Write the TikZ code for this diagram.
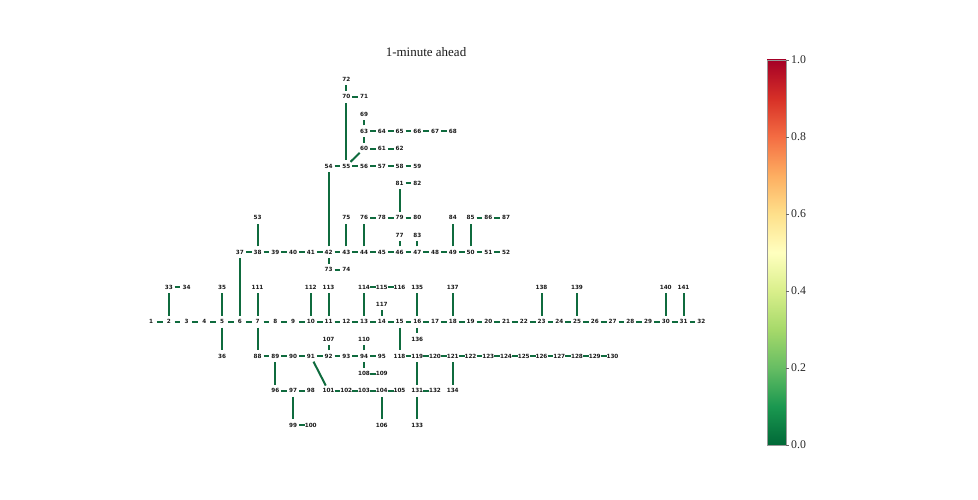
\documentclass[tikz,border=0pt]{standalone}
\usepackage{fontspec}
\setmainfont{Liberation Serif}
\newfontfamily\busfont{DejaVu Sans Bold}
\definecolor{cA}{HTML}{006837}\definecolor{cB}{HTML}{1A9850}\definecolor{cC}{HTML}{66BD63}
\definecolor{cD}{HTML}{A6D96A}\definecolor{cE}{HTML}{D9EF8B}\definecolor{cF}{HTML}{FFFFBF}
\definecolor{cG}{HTML}{FEE08B}\definecolor{cH}{HTML}{FDAE61}\definecolor{cI}{HTML}{F46D43}
\definecolor{cJ}{HTML}{D73027}\definecolor{cK}{HTML}{A50026}
\definecolor{edgegreen}{HTML}{0F6B3E}
\pgfdeclareverticalshading{rdylgn}{100bp}{
 color(0bp)=(cA);color(25bp)=(cA);color(30bp)=(cB);color(35bp)=(cC);color(40bp)=(cD);color(45bp)=(cE);
 color(50bp)=(cF);color(55bp)=(cG);color(60bp)=(cH);color(65bp)=(cI);color(70bp)=(cJ);color(75bp)=(cK);color(100bp)=(cK)}
\tikzset{
 bus/.style={circle,inner sep=0pt,minimum size=11.6pt,font=\busfont\fontsize{5.7}{6}\selectfont,text=black!90},
 edge/.style={draw=edgegreen,line width=2pt},
 ticklabel/.style={anchor=west,inner sep=0pt,font=\fontsize{11.8}{13}\selectfont,text=black!85},
 titlelabel/.style={inner sep=0pt,font=\fontsize{13}{15}\selectfont,text=black!90},
}
\newcommand{\buslabel}[1]{\makebox[0pt][c]{\raisebox{-0.365em}[0pt][0pt]{#1}}}
\begin{document}
\begin{tikzpicture}[x=17.75pt,y=17.3pt]
\useasboundingbox (-151pt,-178.3pt) rectangle (827pt,321.7pt);
% buses on the main row
\foreach \n [evaluate=\n as \c using int(\n-1)] in {1,...,32}
  \node[bus] (n\n) at (\c,0) {\buslabel{\n}};
% row 4
\foreach \n [evaluate=\n as \c using int(\n-32)] in {37,...,52}
  \node[bus] (n\n) at (\c,4) {\buslabel{\n}};
% row -2 feeders
\foreach \n [evaluate=\n as \c using int(\n-82)] in {88,...,95}
  \node[bus] (n\n) at (\c,-2) {\buslabel{\n}};
\foreach \n [evaluate=\n as \c using int(\n-104)] in {118,...,130}
  \node[bus] (n\n) at (\c,-2) {\buslabel{\n}};
% remaining buses
\foreach \n/\c/\r in {33/1/2,34/2/2,35/4/2,36/4/-2,53/6/6,
  54/10/9,55/11/9,56/12/9,57/13/9,58/14/9,59/15/9,
  60/12/10,61/13/10,62/14/10,
  63/12/11,64/13/11,65/14/11,66/15/11,67/16/11,68/17/11,
  69/12/12,70/11/13,71/12/13,72/11/14,73/10/3,74/11/3,
  75/11/6,76/12/6,77/14/5,78/13/6,79/14/6,80/15/6,81/14/8,82/15/8,83/15/5,
  84/17/6,85/18/6,86/19/6,87/20/6,
  96/7/-4,97/8/-4,98/9/-4,99/8/-6,100/9/-6,
  101/10/-4,102/11/-4,103/12/-4,104/13/-4,105/14/-4,106/13/-6,
  107/10/-1,108/12/-3,109/13/-3,110/12/-1,
  111/6/2,112/9/2,113/10/2,114/12/2,115/13/2,116/14/2,117/13/1,
  131/15/-4,132/16/-4,133/15/-6,134/17/-4,135/15/2,136/15/-1,137/17/2,
  138/22/2,139/24/2,140/29/2,141/30/2}
  \node[bus] (n\n) at (\c,\r) {\buslabel{\n}};
% connectors
\foreach \a [evaluate=\a as \b using int(\a+1)] in {1,...,31}
  \draw[edge] (n\a) -- (n\b);
\foreach \a [evaluate=\a as \b using int(\a+1)] in {37,...,51}
  \draw[edge] (n\a) -- (n\b);
\foreach \a [evaluate=\a as \b using int(\a+1)] in {88,...,94}
  \draw[edge] (n\a) -- (n\b);
\foreach \a [evaluate=\a as \b using int(\a+1)] in {118,...,129}
  \draw[edge] (n\a) -- (n\b);
\foreach \a/\b in {2/33,33/34,5/35,5/36,6/37,38/53,42/54,54/55,55/56,56/57,57/58,58/59,
  55/60,60/61,61/62,60/63,63/64,64/65,65/66,66/67,67/68,63/69,55/70,70/71,70/72,
  42/73,73/74,43/75,44/76,76/78,78/79,79/80,46/77,79/81,81/82,47/83,49/84,50/85,85/86,86/87,
  7/88,89/96,96/97,97/98,97/99,99/100,91/101,101/102,102/103,103/104,104/105,104/106,
  92/107,94/108,108/109,94/110,7/111,10/112,11/113,13/114,114/115,115/116,14/117,
  15/118,119/131,131/132,131/133,121/134,16/135,16/136,18/137,23/138,25/139,30/140,31/141}
  \draw[edge] (n\a) -- (n\b);
% title
\node[titlelabel] (title) at (275pt,269.7pt) {1-minute ahead};
% colour bar
\fill[shading=rdylgn] (616pt,-123.3pt) rectangle (635pt,261.7pt);
\draw[black!40,line width=0.4pt] (616pt,-123.3pt) rectangle (635pt,261.7pt);
\foreach \v/\yy in {0.0/-123.3,0.2/-46.3,0.4/30.7,0.6/107.7,0.8/184.7,1.0/261.7}{
  \draw[black!60,line width=0.4pt] (635pt,\yy pt) -- (638pt,\yy pt);
  \node[ticklabel] (tick\v) at (640pt,\yy pt) {\v};
}
\end{tikzpicture}
\end{document}
